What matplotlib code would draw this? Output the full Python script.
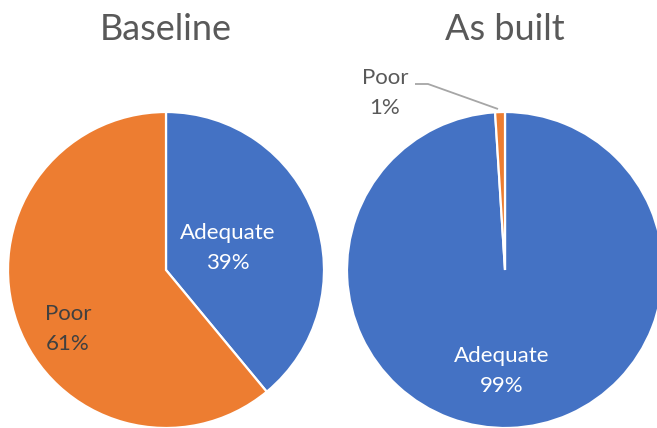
import matplotlib as mpl
mpl.use('Agg')
from matplotlib import pyplot as plt

# Share of sections rated adequate / poor
categories = ['Adequate', 'Poor']
baseline = [39, 61]
asBuilt = [99, 1]
titles = ['Baseline', 'As built']

blue, orange = '#4472C4', '#ED7D31'

mpl.rc('font', family=['Lato', 'DejaVu Sans'])

fig = plt.figure(figsize=(6.57, 4.28), dpi=100)
axes = fig.add_axes([0, 0, 1, 1])

radius = 158
wedgeStyle = {'edgecolor': 'white', 'linewidth': 1.6}

for values, title, cx in [(baseline, titles[0], 166), (asBuilt, titles[1], 505)]:
    axes.pie(
        values, colors=[blue, orange], startangle=90, counterclock=False,
        radius=radius, center=(cx, 158), wedgeprops=wedgeStyle, frame=True
    )
    axes.text(cx, 399, title, ha='center', va='center', fontsize=26, color='#595959')

axes.set_xlim(0, 657)
axes.set_ylim(0, 428)
axes.set_aspect('equal')
axes.axis('off')

def label(x, y, text, colour):
    axes.text(x, y, text, ha='center', va='center', fontsize=16,
              color=colour, linespacing=1.65)

label(228, 180, '{}\n{}%'.format(categories[0], baseline[0]), 'white')
label(68, 99, '{}\n{}%'.format(categories[1], baseline[1]), '#404040')
label(502, 57, '{}\n{}%'.format(categories[0], asBuilt[0]), 'white')
label(385, 335, '{}\n{}%'.format(categories[1], asBuilt[1]), '#595959')

# Leader line for the small slice
axes.plot([415, 428, 498], [344, 344, 319], color='#A6A6A6', lw=1.3,
          solid_capstyle='butt')

fig.savefig('out.png', dpi=100)
